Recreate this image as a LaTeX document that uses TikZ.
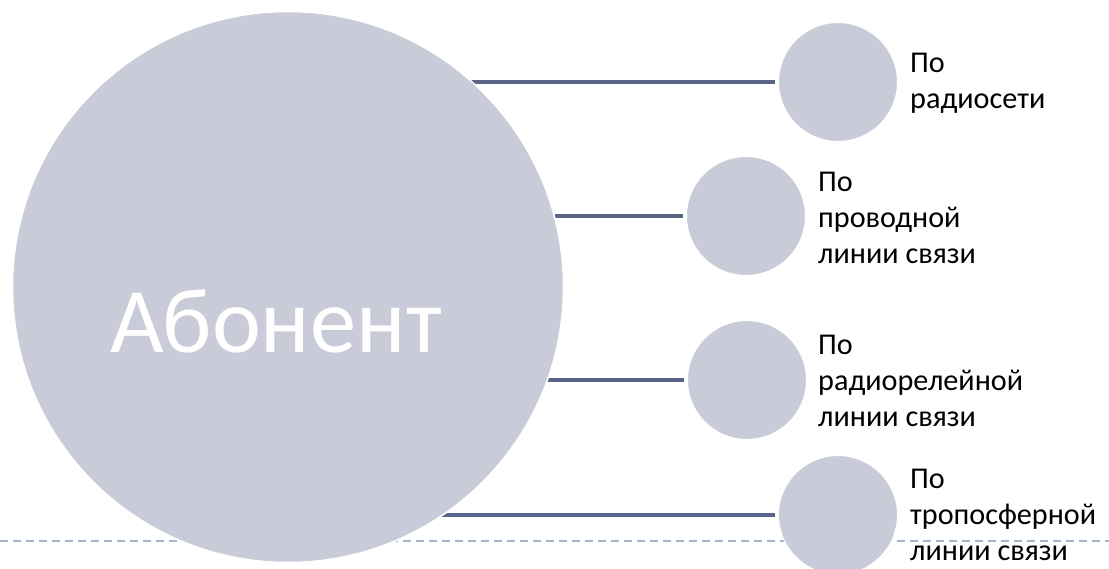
\documentclass[tikz,border=0pt]{standalone}
\usepackage{fontspec}
\setmainfont{Carlito}
\usetikzlibrary{backgrounds}
\definecolor{circfill}{HTML}{C9CBD8}
\definecolor{connline}{HTML}{5A6486}
\definecolor{dashcol}{HTML}{A3B6CC}
\tikzset{
  bigcirc/.style={circle, fill=circfill, draw=white, line width=1.5pt, inner sep=0pt, minimum size=551pt},
  smallcirc/.style={circle, fill=circfill, draw=white, line width=1pt, inner sep=0pt, minimum size=119pt},
  lbl/.style={anchor=west, align=left, inner sep=0pt, font=\fontsize{30.2}{36}\selectfont, text=black},
  conn/.style={draw=connline, line width=4.5pt},
  footline/.style={draw=dashcol, line width=1.6pt, dash pattern=on 8pt off 5pt}
}
\begin{document}
\begin{tikzpicture}[x=1pt, y=-1pt]
\useasboundingbox (0,0) rectangle (1109,569);
\node[bigcirc] (big) at (288,287) {};
\node[text=white, font=\fontsize{92.5}{100}\selectfont, inner sep=0pt] (bigtxt) at (276,321) {Абонент};
\node[smallcirc] (s1) at (838,82) {};
\node[smallcirc] (s2) at (746,216) {};
\node[smallcirc] (s3) at (747,380) {};
\node[smallcirc] (s4) at (838,515) {};
\node[lbl] (t1) at (910,83) {По\\радиосети};
\node[lbl] (t2) at (818,218) {По\\проводной\\линии связи};
\node[lbl] (t3) at (818,381) {По\\радиорелейной\\линии связи};
\node[lbl] (t4) at (910,515) {По\\тропосферной\\линии связи};
\coordinate (fl) at (0,541);
\coordinate (fr) at (1109,541);
\begin{scope}[on background layer]
  \draw[footline] (fl) -- (fr);
  \draw[conn, shorten >=3pt] (s1.west -| big.center) -- (s1.west);
  \draw[conn, shorten >=3pt] (s2.west -| big.center) -- (s2.west);
  \draw[conn, shorten >=3pt] (s3.west -| big.center) -- (s3.west);
  \draw[conn, shorten >=3pt] (s4.west -| big.center) -- (s4.west);
\end{scope}
\end{tikzpicture}
\end{document}
